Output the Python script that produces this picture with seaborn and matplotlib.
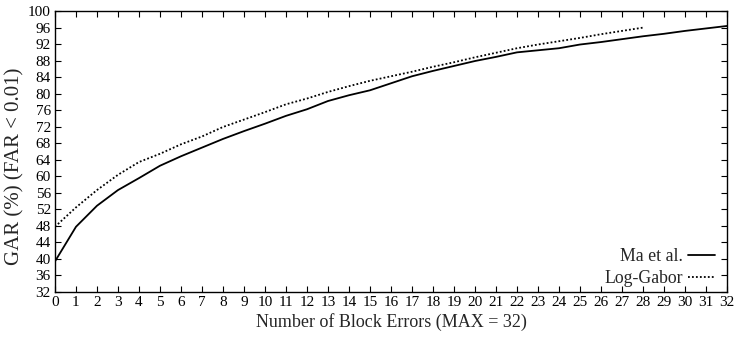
import matplotlib
matplotlib.use('Agg')
import matplotlib.pyplot as plt
from matplotlib.lines import Line2D
import pandas as pd
import seaborn as sns

# 数据：从图中读取
block_errors_ma = list(range(0, 33))
gar_ma = [39.3, 47.7, 52.8, 56.6, 59.5, 62.5, 64.8, 66.9, 69.0, 70.9,
          72.7, 74.6, 76.2, 78.2, 79.6, 80.8, 82.5, 84.2, 85.5, 86.7,
          87.9, 88.9, 90.0, 90.5, 91.0, 91.9, 92.5, 93.2, 93.9, 94.5,
          95.2, 95.8, 96.4]

block_errors_lg = list(range(0, 29))
gar_lg = [47.7, 52.4, 56.6, 60.3, 63.4, 65.4, 67.7, 69.6, 71.9, 73.7,
          75.5, 77.4, 78.8, 80.4, 81.8, 83.1, 84.2, 85.3, 86.5, 87.6,
          88.8, 89.9, 91.0, 91.9, 92.7, 93.5, 94.4, 95.2, 96.0]

series_names = ['Ma et al.', 'Log-Gabor']

df = pd.concat([
    pd.DataFrame({'errors': block_errors_ma, 'gar': gar_ma, 'method': series_names[0]}),
    pd.DataFrame({'errors': block_errors_lg, 'gar': gar_lg, 'method': series_names[1]}),
], ignore_index=True)

sns.set_style('ticks')
plt.rcParams['font.family'] = ['Liberation Serif', 'DejaVu Serif']

fig = plt.figure(figsize=(7.36, 3.37), dpi=100)
ax = fig.add_axes([0.0747, 0.135, 0.9131, 0.832])

sns.lineplot(data=df, x='errors', y='gar', hue='method', style='method',
             palette={'Ma et al.': 'black', 'Log-Gabor': 'black'},
             dashes={'Ma et al.': '', 'Log-Gabor': (1, 1.2)},
             linewidth=1.3, ax=ax, legend=False)

ax.set_xlim(0, 32)
ax.set_ylim(32, 100)
ax.set_xticks(range(0, 33))
ax.set_yticks(range(32, 101, 4))
ax.tick_params(direction='in', top=True, right=True, length=4, width=0.8,
               labelsize=11, colors='black', pad=3)
for sp in ax.spines.values():
    sp.set_visible(True)
    sp.set_linewidth(1.0)
    sp.set_color('black')

ax.set_xlabel('Number of Block Errors (MAX = 32)', fontsize=13, labelpad=3)
ax.set_ylabel('GAR (%) (FAR < 0.01)', fontsize=15)
ax.yaxis.set_label_coords(-0.045, 0.447)

handles = [Line2D([], [], color='black', lw=1.3),
           Line2D([], [], color='black', lw=1.3, dashes=(1, 1.2))]
ax.legend(handles, series_names, loc='lower right', frameon=False,
          markerfirst=False, fontsize=12.8, handlelength=1.5,
          labelspacing=0.25, borderpad=0.2, borderaxespad=0.5,
          handletextpad=0.3, bbox_to_anchor=(1.0, -0.028))

fig.savefig('out.png', dpi=100)
